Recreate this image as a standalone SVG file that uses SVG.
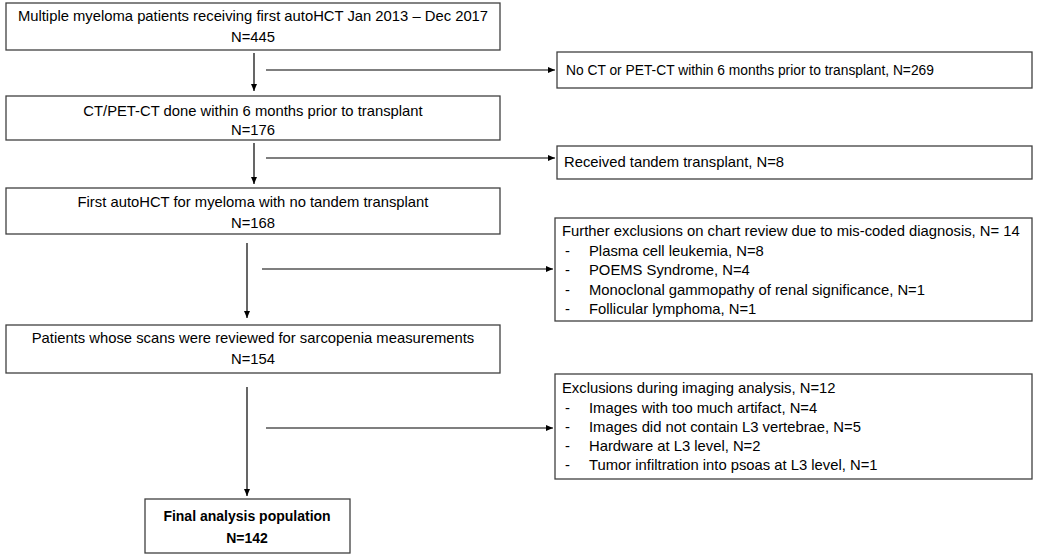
<svg xmlns="http://www.w3.org/2000/svg" width="1050" height="556" viewBox="0 0 1050 556">
<style>
.box{fill:#fff;stroke:#404040;stroke-width:1.3}
.t{font-family:"Liberation Sans",Arial,sans-serif;font-size:14.8px;fill:#000}
.c{text-anchor:middle}
.s{font-size:13.8px}
.b{font-weight:bold;font-size:14px}
.ln{stroke:#000;stroke-width:1.2;fill:none;marker-end:url(#ah)}
</style>
<defs>
<marker id="ah" markerWidth="8" markerHeight="8" refX="7" refY="4" orient="auto" markerUnits="userSpaceOnUse">
<path d="M0,1 L7,4 L0,7 Z" fill="#000"/>
</marker>
</defs>
<rect width="1050" height="556" fill="#fff"/>
<g id="connectors">
<line class="ln" x1="254" y1="53" x2="254" y2="91"/>
<line class="ln" x1="266" y1="70" x2="555" y2="70"/>
<line class="ln" x1="254" y1="143" x2="254" y2="184"/>
<line class="ln" x1="266" y1="158" x2="555" y2="158"/>
<line class="ln" x1="247" y1="243" x2="247" y2="318"/>
<line class="ln" x1="262" y1="269" x2="553" y2="269"/>
<line class="ln" x1="247" y1="387" x2="247" y2="496"/>
<line class="ln" x1="266" y1="428" x2="553" y2="428"/>
</g>
<g id="n1">
<rect class="box" x="6" y="3" width="494" height="47"/>
<text class="t c" x="253" y="21">Multiple myeloma patients receiving first autoHCT Jan 2013 – Dec 2017</text>
<text class="t c" x="253" y="42">N=445</text>
</g>
<g id="x1">
<rect class="box" x="557" y="52" width="475" height="36"/>
<text class="t s" x="566" y="75">No CT or PET-CT within 6 months prior to transplant, N=269</text>
</g>
<g id="n2">
<rect class="box" x="6" y="96" width="494" height="44"/>
<text class="t c" x="253" y="116">CT/PET-CT done within 6 months prior to transplant</text>
<text class="t c" x="253" y="135">N=176</text>
</g>
<g id="x2">
<rect class="box" x="557" y="146" width="475" height="33"/>
<text class="t" x="564" y="167">Received tandem transplant, N=8</text>
</g>
<g id="n3">
<rect class="box" x="6" y="188" width="494" height="46"/>
<text class="t c" x="253" y="207">First autoHCT for myeloma with no tandem transplant</text>
<text class="t c" x="253" y="228">N=168</text>
</g>
<g id="x3">
<rect class="box" x="555" y="218" width="477" height="103"/>
<text class="t" x="562" y="236">Further exclusions on chart review due to mis-coded diagnosis, N= 14</text>
<text class="t" x="565" y="255.5">-</text><text class="t" x="589" y="255.5">Plasma cell leukemia,  N=8</text>
<text class="t" x="565" y="275">-</text><text class="t" x="589" y="275">POEMS Syndrome, N=4</text>
<text class="t" x="565" y="294.5">-</text><text class="t" x="589" y="294.5">Monoclonal gammopathy of renal significance, N=1</text>
<text class="t" x="565" y="314">-</text><text class="t" x="589" y="314">Follicular lymphoma, N=1</text>
</g>
<g id="n4">
<rect class="box" x="6" y="325" width="494" height="48"/>
<text class="t c" x="253" y="343">Patients whose scans were reviewed for sarcopenia measurements</text>
<text class="t c" x="253" y="364">N=154</text>
</g>
<g id="x4">
<rect class="box" x="555" y="374" width="477" height="105"/>
<text class="t" x="562" y="393">Exclusions during imaging analysis, N=12</text>
<text class="t" x="565" y="413">-</text><text class="t" x="589" y="413">Images with too much artifact, N=4</text>
<text class="t" x="565" y="432">-</text><text class="t" x="589" y="432">Images did not contain L3 vertebrae, N=5</text>
<text class="t" x="565" y="451">-</text><text class="t" x="589" y="451">Hardware at L3 level,  N=2</text>
<text class="t" x="565" y="470">-</text><text class="t" x="589" y="470">Tumor infiltration into psoas at L3 level, N=1</text>
</g>
<g id="final">
<rect class="box" x="145" y="499" width="205" height="54"/>
<text class="t c b" x="247" y="521">Final analysis population</text>
<text class="t c b" x="247" y="543">N=142</text>
</g>
</svg>
